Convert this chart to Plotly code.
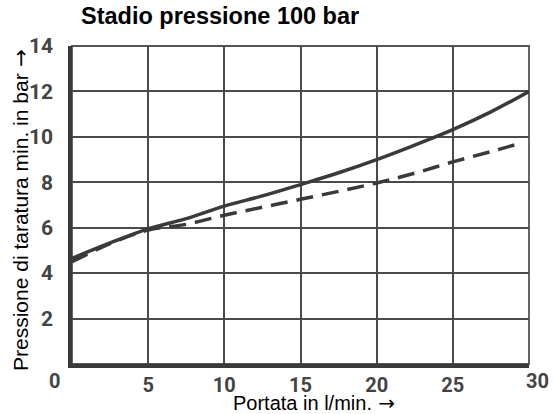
import plotly.graph_objects as go

# Data
flow = [0, 2.5, 5, 7.5, 10, 12.5, 15, 17.5, 20, 22.5, 25, 27.5, 30]
p_solid = [4.65, 5.33, 5.95, 6.4, 6.95, 7.4, 7.9, 8.42, 9.0, 9.64, 10.32, 11.1, 12.0]
flow_dash = [0, 2.5, 5, 7.5, 10, 12.5, 15, 17.5, 20, 22.5, 25, 27.5, 29.6]
p_dash = [4.5, 5.3, 5.9, 6.15, 6.55, 6.9, 7.25, 7.6, 7.97, 8.4, 8.9, 9.35, 9.75]

x_ticks = [5, 10, 15, 20, 25, 30]
x_tick_text = ["5", "10", "15", "20", "25", "30"]
y_ticks = [2, 4, 6, 8, 10, 12, 14]
y_tick_text = ["2", "4", "6", "8", "10", "12", "14"]

title_text = "Stadio pressione 100 bar"
x_title = "Portata in l/min."
y_title = "Pressione di taratura min. in bar"
arrow = "<span style='font-family:DejaVu Sans'> →</span>"

line_col = "#3a3a3a"
grid_col = "#4a4a4a"
tick_font = dict(family="Roboto", size=21, color="#444444", weight="bold")
xtick_font = dict(family="Roboto", size=20, color="#444444", weight="bold")

fig = go.Figure()
fig.add_trace(go.Scatter(x=flow, y=p_solid, mode="lines",
                         line=dict(color=line_col, width=3.5, shape="spline"),
                         showlegend=False, hoverinfo="skip"))
fig.add_trace(go.Scatter(x=flow_dash, y=p_dash, mode="lines",
                         line=dict(color=line_col, width=3.5, shape="spline", dash="17px,9px"),
                         showlegend=False, hoverinfo="skip"))

fig.update_layout(
    width=554, height=414,
    margin=dict(l=72, r=25, t=46, b=50),
    paper_bgcolor="white", plot_bgcolor="white",
    xaxis=dict(range=[0, 30], tickvals=x_ticks[:-1], ticktext=x_tick_text[:-1],
               showgrid=True, gridcolor=grid_col, gridwidth=1.6,
               showline=True, linecolor=line_col, linewidth=3.5,
               zeroline=False, ticks="", tickfont=xtick_font,
               ticklabelstandoff=0, fixedrange=True),
    yaxis=dict(range=[0, 14], tickvals=y_ticks, ticktext=y_tick_text,
               showgrid=True, gridcolor=grid_col, gridwidth=1.6,
               showline=True, linecolor=line_col, linewidth=3.5,
               zeroline=False, ticks="", tickfont=tick_font,
               ticklabelstandoff=11, fixedrange=True),
    shapes=[dict(type="rect", xref="paper", yref="paper", x0=0, x1=1, y0=0, y1=1,
                 line=dict(color="#555555", width=1.8), layer="below")],
)

fig.add_annotation(text="<b>" + title_text + "</b>", xref="paper", yref="paper",
                   x=0, y=1, xshift=7, yshift=30, xanchor="left", yanchor="middle",
                   showarrow=False,
                   font=dict(family="Liberation Sans", size=23.5, color="black"))
fig.add_annotation(text="0", xref="x", yref="paper", x=0, y=0, xshift=-18, yshift=-17,
                   xanchor="center", yanchor="middle", showarrow=False, font=xtick_font)
fig.add_annotation(text=x_tick_text[-1], xref="x", yref="paper", x=x_ticks[-1], y=0,
                   xshift=8, yshift=-17, xanchor="center", yanchor="middle",
                   showarrow=False, font=xtick_font)
fig.add_annotation(text=x_title + arrow, xref="paper", yref="paper", x=0.5, y=0,
                   xshift=13, yshift=-39, xanchor="center", yanchor="middle",
                   showarrow=False,
                   font=dict(family="Liberation Sans", size=20, color="black"))
fig.add_annotation(text=y_title + arrow, xref="paper", yref="paper", x=0, y=0.5,
                   xshift=-51, yshift=-5, xanchor="center", yanchor="middle",
                   textangle=-90, showarrow=False,
                   font=dict(family="Liberation Sans", size=21, color="black"))

fig.write_html("out.html")
